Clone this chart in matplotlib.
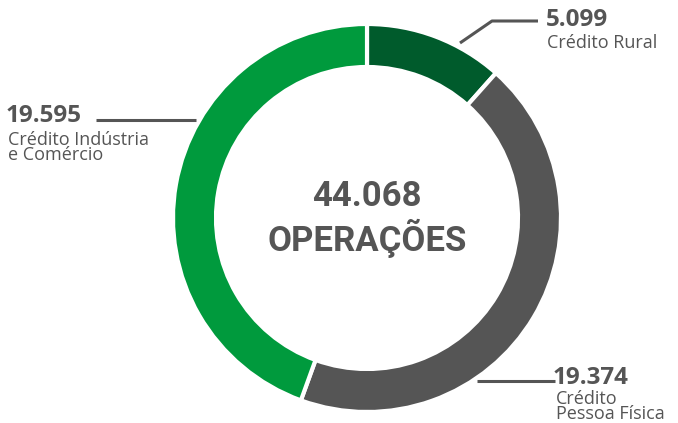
import matplotlib
matplotlib.use("Agg")
import matplotlib.pyplot as plt

# data
categories = ["Crédito Rural", "Crédito\nPessoa Física", "Crédito Indústria\ne Comércio"]
values = [5099, 19374, 19595]
value_labels = ["5.099", "19.374", "19.595"]
total_label = "44.068"
center_caption = "OPERAÇÕES"
colors = ["#005b2c", "#555555", "#009a3d"]
text_color = "#555555"

W, H = 678, 423
fig = plt.figure(figsize=(W / 100, H / 100), dpi=100)
ax = fig.add_axes([0, 0, 1, 1])

cx, cy = 367, H - 218
radius = 194
ax.pie(values, colors=colors, startangle=90, counterclock=False,
       center=(cx, cy), radius=radius,
       wedgeprops=dict(width=43, edgecolor="white", linewidth=3))
ax.set_xlim(0, W)
ax.set_ylim(0, H)
ax.set_aspect("equal")
ax.axis("off")

# center text
ax.text(cx, H - 196, total_label, ha="center", va="center", fontsize=25,
        fontweight="bold", color=text_color, family="Roboto")
ax.text(cx, H - 238, center_caption, ha="center", va="center", fontsize=25,
        fontweight="bold", color=text_color, family="Roboto")

line_kw = dict(color=text_color, lw=2.2, solid_capstyle="butt")
num_kw = dict(fontsize=17.5, fontweight="bold", color=text_color, family="Open Sans")
lab_kw = dict(fontsize=13, color=text_color, family="Open Sans", linespacing=0.82)

# Credito Rural
ax.plot([460, 492, 538], [H - 43, H - 21, H - 21], **line_kw)
ax.text(546, H - 20, value_labels[0], ha="left", va="center", **num_kw)
ax.text(547, H - 43, categories[0], ha="left", va="center", **lab_kw)

# Credito Industria e Comercio
ax.plot([96, 196], [H - 120, H - 120], **line_kw)
ax.text(6, H - 116, value_labels[2], ha="left", va="center", **num_kw)
ax.text(8, H - 131, categories[2], ha="left", va="top", **lab_kw)

# Credito Pessoa Fisica
ax.plot([477, 555], [H - 381, H - 381], **line_kw)
ax.text(553, H - 378, value_labels[1], ha="left", va="center", **num_kw)
ax.text(556, H - 390, categories[1], ha="left", va="top", **lab_kw)

fig.savefig("out.png", dpi=100)
